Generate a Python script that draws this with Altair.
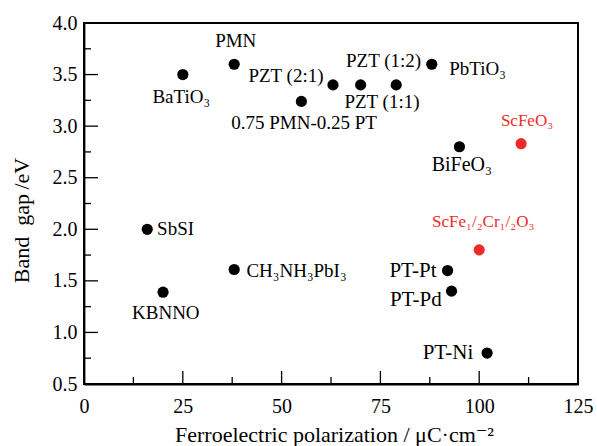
import altair as alt
import pandas as pd

# --- data ---
materials = ["BaTiO3", "PMN", "0.75PMN-0.25PT", "PZT(2:1)", "PZT(1:1)", "PZT(1:2)",
             "PbTiO3", "BiFeO3", "ScFeO3", "SbSI", "KBNNO", "CH3NH3PbI3",
             "ScFe1/2Cr1/2O3", "PT-Pt", "PT-Pd", "PT-Ni"]
polarization = [25, 38, 55, 63, 70, 79, 88, 95, 110.6, 16, 20, 38, 100, 92, 93, 102]
band_gap = [3.50, 3.60, 3.24, 3.40, 3.40, 3.40, 3.60, 2.80, 2.83, 2.00, 1.39, 1.61, 1.80, 1.60, 1.40, 0.80]
group = ["known"] * 8 + ["new"] + ["known"] * 3 + ["new"] + ["known"] * 3

label_text = ["BaTiO₃", "PMN", "0.75 PMN-0.25 PT", "PZT (2:1)", "PZT (1:1)", "PZT (1:2)",
              "PbTiO₃", "BiFeO₃", "ScFeO₃", "SbSI", "KBNNO", "CH₃NH₃PbI₃",
              "ScFe₁/₂Cr₁/₂O₃", "PT-Pt", "PT-Pd", "PT-Ni"]
label_x = [24.6, 38.4, 55.7, 51.1, 75.4, 75.8, 92.4, 95.6, 112.1, 18.5, 20.7, 41.1, 101.0, 89.2, 90.5, 98.5]
label_y = [3.28, 3.825, 3.03, 3.49, 3.234, 3.63, 3.55, 2.62, 3.05, 2.00, 1.187, 1.60, 2.07, 1.60, 1.31, 0.80]
label_align = ["center", "center", "center", "center", "center", "center", "left", "center",
               "center", "left", "center", "left", "center", "right", "right", "right"]
label_size = [19, 19, 19, 19, 19, 19, 19, 20, 17, 19, 19, 19, 17, 21, 21, 21]

x_major = [25, 50, 75, 100]
x_minor = [12.5, 37.5, 62.5, 87.5, 112.5]
y_major = [1.0, 1.5, 2.0, 2.5, 3.0, 3.5]
y_minor = [0.75, 1.25, 1.75, 2.25, 2.75, 3.25, 3.75]
x_domain = [0, 125]
y_domain = [0.5, 4.0]

FONT = "'Liberation Serif', 'Times New Roman', Tinos, 'DejaVu Serif', serif"
RED = "#ee2b2b"
W, H = 494, 361

pts = pd.DataFrame({"m": materials, "P": polarization, "Eg": band_gap, "g": group})
labs = pd.DataFrame({"t": label_text, "x": label_x, "y": label_y, "a": label_align,
                     "s": label_size, "g": group})

xs = alt.Scale(domain=x_domain, nice=False, zero=False)
ys = alt.Scale(domain=y_domain, nice=False, zero=False)

xaxis = alt.Axis(values=[0, 25, 50, 75, 100, 125], tickSize=0, labelPadding=12,
                 labelFlush=False,
                 labelFont=FONT, labelFontSize=20, labelColor="black",
                 domainColor="black", domainWidth=1.8, grid=False,
                 title="Ferroelectric polarization / μC·cm⁻²", titleFont=FONT,
                 titleFontSize=22, titleFontWeight="normal", titleColor="black",
                 titleX=250, titleY=57, titleBaseline="alphabetic", titleAnchor="middle")
yaxis = alt.Axis(values=[0.5, 1.0, 1.5, 2.0, 2.5, 3.0, 3.5, 4.0], format=".1f", tickSize=0,
                 labelFlush=False,
                 labelPadding=7, labelFont=FONT, labelFontSize=20, labelColor="black",
                 domainColor="black", domainWidth=1.8, grid=False,
                 title="Band\u2002gap\u2009/eV", titleFont=FONT, titleFontSize=22,
                 titleFontWeight="normal", titleColor="black", titleX=-56, titleY=197,
                 titleBaseline="alphabetic", titleAngle=-90, titleAnchor="middle")

color = alt.Color("g:N", scale=alt.Scale(domain=["known", "new"], range=["black", RED]), legend=None)

points = alt.Chart(pts).mark_circle(size=125, opacity=1).encode(
    x=alt.X("P:Q", scale=xs, axis=xaxis),
    y=alt.Y("Eg:Q", scale=ys, axis=yaxis),
    color=color,
)

def label_layer(al):
    return alt.Chart(labs[labs["a"] == al]).mark_text(
        font=FONT, align=al, baseline="middle").encode(
        x=alt.X("x:Q", scale=xs), y=alt.Y("y:Q", scale=ys), text="t:N",
        size=alt.Size("s:Q", scale=None, legend=None), color=color)

labels = [label_layer(a) for a in ["left", "center", "right"]]

def vticks(vals, length):
    return alt.Chart(pd.DataFrame({"v": vals})).mark_rule(color="black", strokeWidth=1.3).encode(
        x=alt.X("v:Q", scale=xs), y=alt.value(H), y2=alt.value(H - length))

def hticks(vals, length):
    return alt.Chart(pd.DataFrame({"v": vals})).mark_rule(color="black", strokeWidth=1.3).encode(
        y=alt.Y("v:Q", scale=ys), x=alt.value(0), x2=alt.value(length))

frame = alt.Chart(pd.DataFrame({"v": [0]})).mark_rect(
    fillOpacity=0, stroke="black", strokeWidth=2).encode(
    x=alt.value(0), x2=alt.value(W), y=alt.value(0), y2=alt.value(H))

chart = alt.layer(
    points,
    vticks(x_major, 13), vticks(x_minor, 7), hticks(y_major, 14), hticks(y_minor, 7),
    *labels, frame
).properties(
    width=W, height=H,
    autosize=alt.AutoSizeParams(type="none"),
    padding={"left": 84, "top": 23, "right": 19, "bottom": 62},
).configure_view(stroke="black", strokeWidth=2)

chart.save("out.html", embed_options={"renderer": "svg", "actions": False})
